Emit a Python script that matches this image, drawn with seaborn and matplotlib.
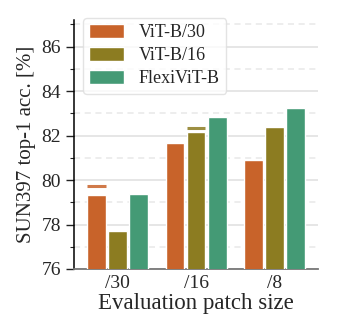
import matplotlib
matplotlib.use("Agg")
import matplotlib.pyplot as plt
import seaborn as sns
import pandas as pd
import numpy as np
from matplotlib.ticker import MultipleLocator, FixedLocator

categories = ["/30", "/16", "/8"]
models = ["ViT-B/30", "ViT-B/16", "FlexiViT-B"]
vit_b30 = [79.33, 81.65, 80.91]
vit_b16 = [77.71, 82.14, 82.37]
flexivit_b = [79.37, 82.82, 83.22]
# native-resolution reference marks (model, category, value)
native_models = ["ViT-B/30", "ViT-B/16"]
native_cats = ["/30", "/16"]
native_vals = [79.72, 82.32]

colors = ["#C8632A", "#8C7C21", "#449A75"]

sns.set_theme(style="white")
plt.rcParams["font.family"] = ["Liberation Serif", "DejaVu Serif"]
plt.rcParams["mathtext.fontset"] = "stix"

df = pd.DataFrame({
    "patch": categories * 3,
    "model": [m for m in models for _ in categories],
    "acc": vit_b30 + vit_b16 + flexivit_b,
})

fig = plt.figure(figsize=(3.40, 3.28), dpi=100)
ax = fig.add_axes([0.218, 0.180, 0.717, 0.759])

sns.barplot(data=df, x="patch", y="acc", hue="model", order=categories,
            hue_order=models, palette=colors, width=0.8, gap=0.1,
            saturation=1, ax=ax, zorder=3)

ax.set_ylim(76, 87.2)
ax.set_xlim(-0.545, 2.545)

# native marks drawn at the same position as corresponding bar
for m, c, v in zip(native_models, native_cats, native_vals):
    hi = models.index(m)
    patches = ax.containers[hi].patches
    p = patches[categories.index(c)]
    x0 = p.get_x()
    x1 = x0 + p.get_width()
    ax.hlines(v, x0, x1, colors=colors[hi], linewidth=2.2, alpha=0.85, zorder=4)

ax.yaxis.set_major_locator(MultipleLocator(2))
ax.yaxis.set_minor_locator(MultipleLocator(1))
ax.grid(axis="y", which="major", color="#e4e4e4", linewidth=1.3, zorder=0)
ax.grid(axis="y", which="minor", color="#e8e8e8", linewidth=1.1, linestyle=(0, (4, 3)), zorder=0)
ax.set_axisbelow(True)

ax.xaxis.set_minor_locator(FixedLocator([-0.43, 0.5, 1.5, 2.43]))
ax.tick_params(axis="x", which="major", length=0, labelsize=14, pad=4)
ax.tick_params(axis="x", which="minor", length=6, width=1, color="#444444", direction="out")
ax.tick_params(axis="y", which="major", length=6, width=1, labelsize=14, left=True, color="#222222")
ax.tick_params(axis="y", which="minor", length=3, width=0.8, left=True, color="#222222")

for s in ["top", "right"]:
    ax.spines[s].set_visible(False)
ax.spines["left"].set_color("black")
ax.spines["left"].set_linewidth(1.1)
ax.spines["bottom"].set_color("#777777")
ax.spines["bottom"].set_linewidth(1.3)

ax.set_xlabel("Evaluation patch size", fontsize=16.5, labelpad=1)
ax.set_ylabel("SUN397 top-1 acc. [%]", fontsize=15, labelpad=4)

leg = ax.legend(loc="upper left", fontsize=13, frameon=True, fancybox=True,
                handlelength=1.95, handleheight=0.75, borderpad=0.35, labelspacing=0.33,
                handletextpad=0.8, borderaxespad=0, bbox_to_anchor=(0.036, 1.008))
leg.get_frame().set_edgecolor("#dddddd")
leg.get_frame().set_linewidth(1.0)

fig.savefig("out.png", dpi=100)
